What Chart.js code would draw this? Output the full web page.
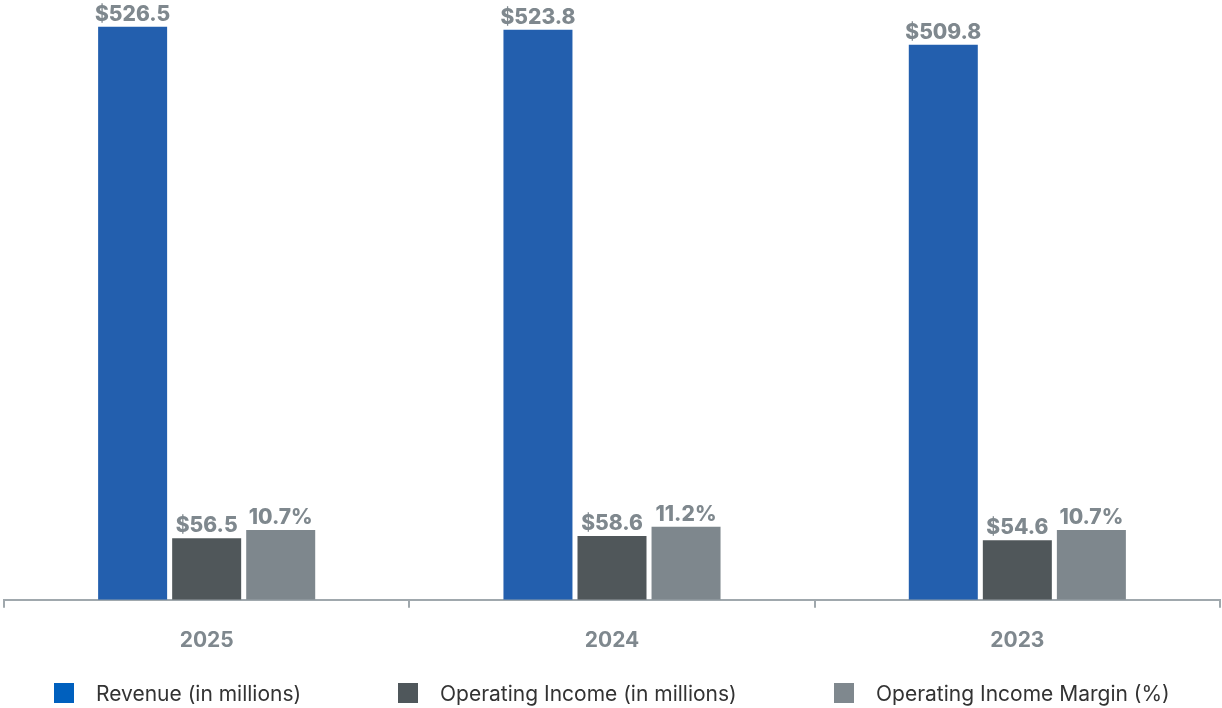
<!DOCTYPE html>
<html>
<head>
<meta charset="utf-8">
<script src="https://cdn.jsdelivr.net/npm/chart.js@4.4.1/dist/chart.umd.min.js"></script>
<style>
  html, body { margin: 0; padding: 0; background: #ffffff; }
  #wrap { position: relative; width: 1222px; height: 708px; }
  #legend { position: absolute; left: 0; top: 683px; width: 1222px; height: 20px; font-family: Inter, sans-serif; font-size: 21px; color: #333333; }
  .item { position: absolute; top: 0; height: 20px; display: flex; align-items: center; white-space: nowrap; }
  .box { width: 20px; height: 20px; margin-right: 22px; flex: none; }
</style>
</head>
<body>
<div id="wrap">
  <canvas id="c" width="1222" height="708"></canvas>
  <div id="legend"></div>
</div>
<script>
const categories = ['2025', '2024', '2023'];
const revenue = [526.5, 523.8, 509.8];
const operatingIncome = [56.5, 58.6, 54.6];
const operatingMargin = [10.7, 11.2, 10.7];
const seriesNames = ['Revenue (in millions)', 'Operating Income (in millions)', 'Operating Income Margin (%)'];
const barColors = ['#235FAE', '#50575A', '#7E878D'];
const legendColors = ['#0060BE', '#4F575B', '#7F888E'];
const legendLefts = [54, 398, 834];

const labelColor = '#7F888E';

const valueLabels = {
  id: 'valueLabels',
  afterDatasetsDraw(chart) {
    const ctx = chart.ctx;
    ctx.save();
    ctx.font = '800 21px Inter, sans-serif';
    ctx.fillStyle = labelColor;
    ctx.textAlign = 'center';
    ctx.textBaseline = 'alphabetic';
    chart.data.datasets.forEach((ds, i) => {
      const meta = chart.getDatasetMeta(i);
      meta.data.forEach((bar, j) => {
        const v = ds.data[j];
        const txt = i === 2 ? v.toFixed(1) + '%' : '$' + v.toFixed(1);
        ctx.fillText(txt, bar.x, bar.y - 6);
      });
    });
    ctx.restore();
  }
};

new Chart(document.getElementById('c'), {
  type: 'bar',
  data: {
    labels: categories,
    datasets: [
      { label: seriesNames[0], data: revenue, backgroundColor: barColors[0], yAxisID: 'y' },
      { label: seriesNames[1], data: operatingIncome, backgroundColor: barColors[1], yAxisID: 'y' },
      { label: seriesNames[2], data: operatingMargin, backgroundColor: barColors[2], yAxisID: 'y1' }
    ]
  },
  options: {
    responsive: false,
    animation: false,
    devicePixelRatio: 1,
    categoryPercentage: 0.548,
    barPercentage: 0.932,
    layout: { padding: { top: 12, left: 4, right: 2, bottom: 35 } },
    plugins: { legend: { display: false }, tooltip: { enabled: false } },
    scales: {
      x: {
        offset: true,
        grid: { display: true, drawOnChartArea: false, drawTicks: true, tickLength: 8, color: '#A0A8AD', lineWidth: 2 },
        border: { display: true, color: '#A0A8AD', width: 2 },
        ticks: { color: labelColor, padding: 20, font: { family: 'Inter, sans-serif', size: 21, weight: 'bold' } }
      },
      y: { display: false, min: 0, max: 540 },
      y1: { display: false, min: 0, max: 90 }
    }
  },
  plugins: [valueLabels]
});

const legend = document.getElementById('legend');
seriesNames.forEach((name, i) => {
  const item = document.createElement('div');
  item.className = 'item';
  item.style.left = legendLefts[i] + 'px';
  const box = document.createElement('span');
  box.className = 'box';
  box.style.background = legendColors[i];
  const t = document.createElement('span');
  t.textContent = name;
  item.appendChild(box);
  item.appendChild(t);
  legend.appendChild(item);
});
</script>
</body>
</html>
